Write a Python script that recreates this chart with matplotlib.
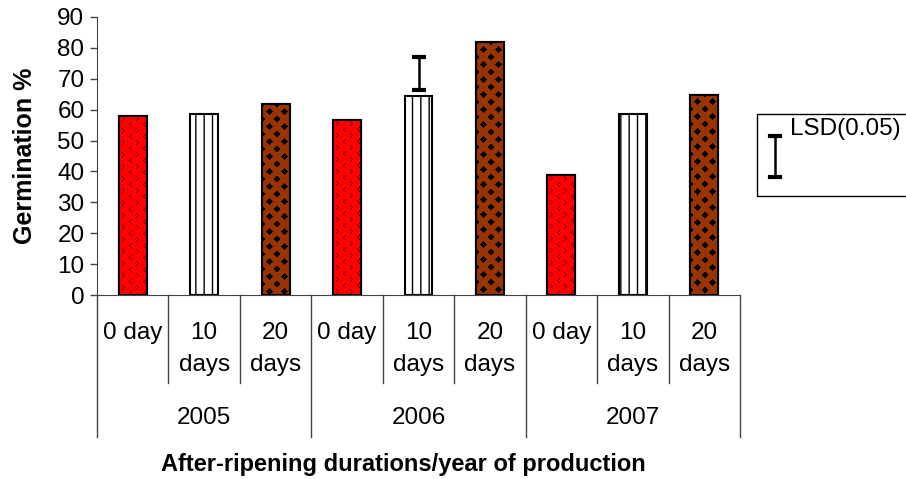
import matplotlib
matplotlib.use("Agg")
import matplotlib.pyplot as plt
from matplotlib.patches import Rectangle
from matplotlib.lines import Line2D
import numpy as np

plt.rcParams['font.family'] = ['Liberation Sans', 'DejaVu Sans']

# ---- data ----
years = ['2005', '2006', '2007']
durations = ['0 day', '10\ndays', '20\ndays']
germ_2005 = [58.0, 58.5, 61.7]
germ_2006 = [56.6, 64.3, 81.8]
germ_2007 = [38.8, 58.6, 64.8]
lsd_bar_year = '2006'
lsd_bar_duration = '10\ndays'
lsd_low = 66.3
lsd_high = 77.0
yticks = list(range(0, 91, 10))

W, H = 906, 479
fig = plt.figure(figsize=(W / 100, H / 100), dpi=100)
x0, x1, ytop, ybot = 97, 740, 17, 295
ax = fig.add_axes([x0 / W, (H - ybot) / H, (x1 - x0) / W, (ybot - ytop) / H])
ax.set_xlim(-0.5, 8.5)
ax.set_ylim(0, 90)

all_vals = [germ_2005, germ_2006, germ_2007]
faces = ['#FF0000', '#FFFFFF', '#993300']
hatches = [None, '||', None]
bar_w = 0.39
FS = 17.5

px_per_x = (x1 - x0) / 9.0
px_per_y = (ybot - ytop) / 90.0


def brown_texture(nx, ny, P=15.0):
    u = np.arange(nx)[None, :] + 0.5
    v = np.arange(ny)[:, None] + 0.5
    a = (u % P) - P / 2
    b = (v % P) - P / 2
    d_black1 = np.abs(np.abs(a) - P / 2) + np.abs(np.abs(b) - P / 2)
    d_black2 = np.abs(a) + np.abs(b)
    black = np.minimum(d_black1, d_black2) < 0.255 * P
    img = np.zeros((ny, nx, 3))
    img[:] = [0x99 / 255, 0x33 / 255, 0.0]
    img[black] = [0, 0, 0]
    return img


def red_texture(nx, ny, Px=14.0, Py=12.0):
    img = np.zeros((ny, nx, 3))
    img[:] = [1.0, 0.0, 0.0]
    dark = np.array([0.3, 0.0, 0.0])
    chev = [(-1, -2), (0, -1), (1, 0), (0, 1), (-1, 2)]
    for sub, (ox, oy, flip) in enumerate([(4.0, 3.0, 1), (11.0, 9.0, -1)]):
        for cx in np.arange(ox, nx, Px):
            for cy in np.arange(oy, ny, Py):
                for dx, dy in chev:
                    xx = int(cx) + flip * dx
                    yy = int(cy) + dy
                    if 0 <= xx < nx and 0 <= yy < ny:
                        img[yy, xx] = dark
    return img


for yi, vals in enumerate(all_vals):
    for di, v in enumerate(vals):
        xpos = yi * 3 + di
        b = ax.bar(xpos, v, width=bar_w, color=faces[di], edgecolor='black',
                   linewidth=1.5, hatch=hatches[di], zorder=2)
        if di in (0, 2):
            patch = b.patches[0]
            nx = int(round(bar_w * px_per_x))
            ny = int(round(v * px_per_y))
            img = brown_texture(nx, ny) if di == 2 else red_texture(nx, ny)
            im = ax.imshow(img, extent=(xpos - bar_w / 2, xpos + bar_w / 2, 0, v),
                           origin='upper', interpolation='nearest',
                           aspect='auto', zorder=2.1)
            im.set_clip_path(patch)
            ax.bar(xpos, v, width=bar_w, fill=False, edgecolor='black',
                   linewidth=1.5, zorder=2.2)

# LSD error bar
lx = years.index(lsd_bar_year) * 3 + durations.index(lsd_bar_duration)
mid = (lsd_low + lsd_high) / 2
ax.errorbar([lx], [mid], yerr=[(lsd_high - lsd_low) / 2], fmt='none',
            ecolor='black', elinewidth=1.8, capsize=5, capthick=3, zorder=3)

ax.set_xlim(-0.5, 8.5)
ax.set_ylim(0, 90)
ax.set_yticks(yticks)
ax.tick_params(axis='y', direction='out', length=5, width=1, labelsize=FS,
               color='#444444', pad=4)
ax.tick_params(axis='x', length=0, labelbottom=False)
for s in ['top', 'right']:
    ax.spines[s].set_visible(False)
ax.spines['left'].set_color('#444444')
ax.spines['bottom'].set_color('#444444')


def ay(py):
    return (ybot - py) / (ybot - ytop)


trans = ax.get_xaxis_transform()
# separators
for k in range(10):
    xs = k - 0.5
    yend = ay(437) if k % 3 == 0 else ay(383)
    ax.add_line(Line2D([xs, xs], [0, yend], transform=trans, color='#444444',
                       lw=1, clip_on=False))
# category labels
for yi, yr in enumerate(years):
    for di, d in enumerate(durations):
        xpos = yi * 3 + di
        ax.text(xpos, ay(322), d, transform=trans, ha='center', va='top',
                fontsize=FS, linespacing=1.58)
    ax.text(yi * 3 + 1, ay(418), yr, transform=trans, ha='center',
            va='center', fontsize=FS)

fig.text(25 / W, 1 - 156 / H, 'Germination %', rotation=90, ha='center',
         va='center', fontsize=18, fontweight='bold')
fig.text(403 / W, 1 - 465 / H, 'After-ripening durations/year of production',
         ha='center', va='center', fontsize=17, fontweight='bold')

# legend box
fig.add_artist(Rectangle((757 / W, 1 - 196 / H), (W + 5 - 757) / W, (196 - 114) / H,
                         transform=fig.transFigure, fill=False, edgecolor='black',
                         lw=1))
lgx = 775 / W
fig.add_artist(Line2D([lgx, lgx], [1 - 136 / H, 1 - 177 / H],
                      transform=fig.transFigure, color='black', lw=1.8))
for py in (136, 177):
    fig.add_artist(Line2D([lgx - 5 / W, lgx + 5 / W], [1 - py / H, 1 - py / H],
                          transform=fig.transFigure, color='black', lw=3))
fig.text(790 / W, 1 - 129 / H, 'LSD(0.05)', ha='left', va='center', fontsize=FS)

fig.savefig('out.png', dpi=100)
